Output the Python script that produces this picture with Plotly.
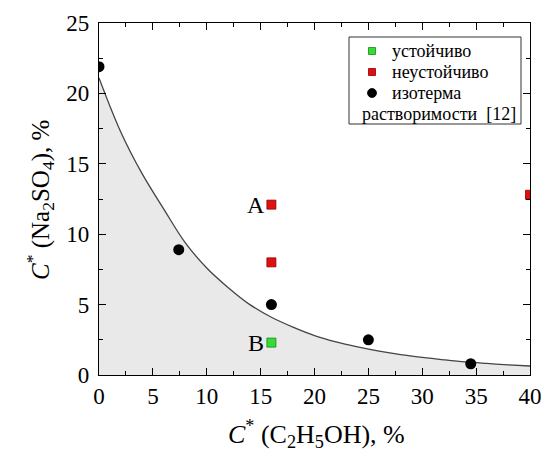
import plotly.graph_objects as go

# Isotherm curve
curve_x = [0, 2, 4, 6, 8, 10, 12, 14, 16, 18, 20, 22, 24, 26, 28, 30, 32, 34, 36, 38, 40]
curve_y = [21.1, 17.3, 14.3, 11.8, 9.4, 7.6, 6.2, 5.0, 4.1, 3.4, 2.8, 2.35, 2.0, 1.7, 1.45, 1.25, 1.08, 0.93, 0.82, 0.72, 0.64]

# Solubility isotherm points [12]
iso_x = [0, 7.4, 16, 25, 34.5]
iso_y = [21.9, 8.9, 5.0, 2.5, 0.8]

# Stable
stable_x = [16]
stable_y = [2.3]

# Unstable
unstable_x = [16, 16, 40]
unstable_y = [12.1, 8.0, 12.8]

labels_text = ["A", "B"]
labels_x = [14.6, 14.6]
labels_y = [12.1, 2.3]

FONT = "Liberation Serif, Times New Roman, DejaVu Serif, serif"

fig = go.Figure()
fig.add_trace(go.Scatter(x=curve_x, y=curve_y, mode="lines", line=dict(color="#444444", width=1.3, shape="spline"),
                         fill="tozeroy", fillcolor="#e9e9e9", showlegend=False, hoverinfo="skip"))
fig.add_trace(go.Scatter(x=iso_x, y=iso_y, mode="markers",
                         marker=dict(symbol="circle", size=11, color="#000000"), showlegend=False, cliponaxis=True))
fig.add_trace(go.Scatter(x=unstable_x, y=unstable_y, mode="markers",
                         marker=dict(symbol="square", size=9, color="#e01010", line=dict(color="#8a0000", width=0.8)),
                         showlegend=False, cliponaxis=True))
fig.add_trace(go.Scatter(x=stable_x, y=stable_y, mode="markers",
                         marker=dict(symbol="square", size=9, color="#33dd33", line=dict(color="#118811", width=0.8)),
                         showlegend=False, cliponaxis=True))

for t, x, y in zip(labels_text, labels_x, labels_y):
    fig.add_annotation(x=x, y=y, text=t, showarrow=False, xanchor="center", yanchor="middle",
                       font=dict(family=FONT, size=24, color="black"))

# Manual legend
def px(xp):
    return (xp - 99) / 431

def py(yp):
    return (375 - yp) / 352

fig.add_shape(type="rect", xref="paper", yref="paper",
              x0=px(349), x1=px(521), y0=py(124), y1=py(37),
              line=dict(color="#333333", width=1), fillcolor="white", layer="above")

leg = [("устойчиво", "#33dd33", "#118811", "rect", 51),
       ("неустойчиво", "#e01010", "#8a0000", "rect", 72),
       ("изотерма", "#000000", "#000000", "circle", 93)]
for name, fc, lc, shp, yc in leg:
    h = 3.5 if shp == "rect" else 4.5
    fig.add_shape(type=shp, xref="paper", yref="paper",
                  x0=px(372 - h), x1=px(372 + h), y0=py(yc + h), y1=py(yc - h),
                  fillcolor=fc, line=dict(color=lc, width=0.8), layer="above")
    fig.add_annotation(xref="paper", yref="paper", x=px(390), y=py(yc), text=name, showarrow=False,
                       xanchor="left", yanchor="middle", font=dict(family=FONT, size=18, color="black"))
fig.add_annotation(xref="paper", yref="paper", x=px(360), y=py(114), text="растворимости  [12]", showarrow=False,
                   xanchor="left", yanchor="middle", font=dict(family=FONT, size=18, color="black"))

# Axis titles
fig.add_annotation(xref="paper", yref="paper", x=px(316), y=py(434),
                   text="<i>C</i><sup>*</sup> (C<sub>2</sub>H<sub>5</sub>OH), %", showarrow=False,
                   xanchor="center", yanchor="middle", font=dict(family=FONT, size=26, color="black"))
fig.add_annotation(xref="paper", yref="paper", x=px(40), y=py(200), textangle=-90,
                   text="<i>C</i><sup>*</sup> (Na<sub>2</sub>SO<sub>4</sub>), %", showarrow=False,
                   xanchor="center", yanchor="middle", font=dict(family=FONT, size=25, color="black"))

axis_common = dict(showgrid=False, zeroline=False, showline=True, linecolor="black", linewidth=1.2,
                   mirror="allticks", ticks="inside", ticklen=7, tickwidth=1, tickcolor="black",
                   automargin=False, ticklabeloverflow="allow",
                   tickfont=dict(family=FONT, size=23, color="black"),
                   minor=dict(ticks="inside", ticklen=4, tickcolor="black", dtick=2.5, showgrid=False))

fig.update_xaxes(range=[0, 40], dtick=5, tick0=0, ticklabelstandoff=0, **axis_common)
fig.update_yaxes(range=[0, 25], dtick=5, tick0=0, ticklabelstandoff=4, **axis_common)

fig.update_layout(width=541, height=452, margin=dict(l=99, r=11, t=23, b=77, autoexpand=False),
                  plot_bgcolor="white", paper_bgcolor="white", showlegend=False)

fig.write_html("out.html", config={"displayModeBar": False},
               post_script="document.body.style.margin='0';document.body.style.overflow='hidden';")
